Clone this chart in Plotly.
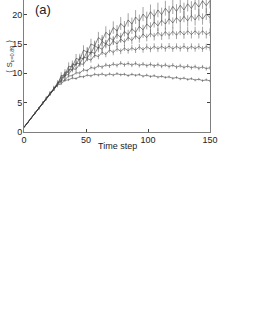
import plotly.graph_objects as go

time_step = list(range(0, 151, 3))

s_c1 = [0.8, 1.6, 2.4, 3.2, 4.0, 4.9, 5.6, 6.5, 7.2, 8.0, 8.2, 8.8, 8.9, 9.2, 9.1, 9.45, 9.4, 9.7, 9.55, 9.85,
        9.7, 9.9, 9.65, 9.9, 9.7, 9.95, 9.75, 9.85, 9.6, 9.85, 9.65, 9.8, 9.5, 9.7, 9.45, 9.6, 9.35, 9.5, 9.3, 9.4,
        9.15, 9.3, 9.05, 9.2, 8.95, 9.1, 8.85, 9.0, 8.75, 8.9, 8.7]
s_c2 = [0.8, 1.6, 2.45, 3.25, 4.05, 4.85, 5.75, 6.5, 7.35, 8.05, 8.6, 8.9, 9.55, 9.6, 10.1, 10.05, 10.6, 10.45, 11.0, 10.85,
        11.3, 11.05, 11.45, 11.25, 11.6, 11.35, 11.75, 11.45, 11.7, 11.4, 11.7, 11.35, 11.6, 11.3, 11.55, 11.25, 11.5, 11.2, 11.45, 11.15,
        11.4, 11.05, 11.3, 11.0, 11.25, 10.95, 11.15, 10.85, 11.1, 10.8, 10.95]
s_c3 = [0.8, 1.65, 2.4, 3.25, 4.05, 4.9, 5.7, 6.55, 7.3, 8.2, 8.7, 9.6, 9.85, 10.75, 10.7, 11.6, 11.55, 12.5, 12.25, 13.1,
        12.85, 13.6, 13.2, 14.0, 13.55, 14.2, 13.75, 14.3, 13.85, 14.35, 13.95, 14.5, 14.0, 14.55, 14.1, 14.6, 14.15, 14.6, 14.2, 14.65,
        14.15, 14.6, 14.2, 14.65, 14.15, 14.6, 14.2, 14.6, 14.15, 14.55, 14.3]
s_c4 = [0.8, 1.6, 2.45, 3.2, 4.1, 4.85, 5.75, 6.5, 7.4, 8.1, 9.3, 9.45, 10.65, 10.6, 11.75, 11.6, 12.75, 12.6, 13.65, 13.4,
        14.45, 14.1, 15.05, 14.65, 15.55, 15.0, 15.85, 15.3, 16.15, 15.6, 16.45, 15.85, 16.7, 16.1, 16.85, 16.25, 17.0, 16.35, 17.1, 16.45,
        17.15, 16.5, 17.2, 16.55, 17.25, 16.6, 17.25, 16.6, 17.25, 16.6, 17.0]
s_c5 = [0.8, 1.65, 2.4, 3.3, 4.05, 4.95, 5.7, 6.6, 7.35, 8.4, 8.8, 10.2, 10.2, 11.6, 11.4, 12.7, 12.45, 13.75, 13.4, 14.7,
        14.3, 15.45, 15.0, 16.1, 15.6, 16.7, 16.1, 17.15, 16.6, 17.6, 17.0, 18.0, 17.4, 18.4, 17.8, 18.75, 18.1, 19.05, 18.4, 19.3,
        18.6, 19.5, 18.8, 19.7, 18.95, 19.85, 19.1, 20.0, 19.25, 20.1, 19.5]
s_c6 = [0.8, 1.6, 2.45, 3.25, 4.0, 4.9, 5.75, 6.55, 7.45, 8.1, 9.6, 9.7, 11.2, 11.1, 12.55, 12.3, 13.95, 13.6, 15.0, 14.7,
        16.1, 15.6, 17.0, 16.45, 17.8, 17.2, 18.5, 17.85, 19.1, 18.4, 19.6, 18.9, 20.1, 19.35, 20.5, 19.7, 20.8, 20.0, 21.1, 20.3,
        21.4, 20.55, 21.6, 20.8, 21.85, 21.05, 22.1, 21.3, 22.35, 21.55, 22.4]

series = [s_c1, s_c2, s_c3, s_c4, s_c5, s_c6]
err_percent = [2.5, 3, 3.5, 4, 5, 6]

x_ticks = [0, 50, 100, 150]
y_ticks = [0, 5, 10, 15, 20]

fig = go.Figure()
for ys, ep in zip(series, err_percent):
    fig.add_trace(go.Scatter(
        x=time_step, y=ys, mode="lines",
        line=dict(color="#3a3a3a", width=0.6),
        error_y=dict(type="percent", value=ep, color="#666666", thickness=0.6, width=0),
        showlegend=False,
    ))

font = "Liberation Sans, Arial, sans-serif"
fig.update_layout(
    width=255, height=330,
    margin=dict(l=24, r=45, t=0, b=198, autoexpand=False),
    paper_bgcolor="white", plot_bgcolor="white",
    font=dict(family=font, size=9, color="#222222"),
    xaxis=dict(
        range=[0, 150], tickvals=x_ticks, ticks="inside", ticklen=3,
        showline=True, linecolor="#7f7f7f", linewidth=1, mirror=False,
        showgrid=False, zeroline=False, automargin=False,
        ticklabelstandoff=-1, tickfont=dict(size=9),
    ),
    yaxis=dict(
        range=[0, 22.5], tickvals=y_ticks, ticks="inside", ticklen=3,
        showline=True, linecolor="#7f7f7f", linewidth=1, mirror="ticks",
        showgrid=False, zeroline=False, automargin=False, tickfont=dict(size=9),
        ticklabelstandoff=-1,
    ),
    annotations=[
        dict(text="(a)", xref="paper", yref="paper", x=0.05, y=1.0, xanchor="left", yanchor="top",
             showarrow=False, font=dict(size=13, color="#222222")),
        dict(text="⟨ S<sub>ε=0.89</sub> ⟩", xref="paper", yref="paper", x=-0.075, y=0.57, textangle=-90,
             xanchor="center", yanchor="middle", showarrow=False, font=dict(size=8, color="#333333")),
        dict(text="Time step", xref="paper", yref="paper", x=0.5, y=-0.108,
             xanchor="center", yanchor="middle", showarrow=False, font=dict(size=9, color="#222222")),
    ],
)

fig.write_html("out.html", config={"displayModeBar": False},
               post_script="document.body.style.margin='0';document.body.style.padding='0';")
